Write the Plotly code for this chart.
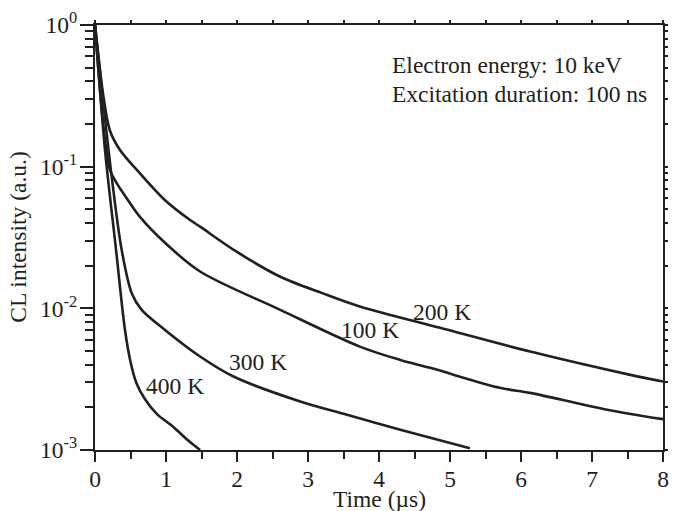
import math
import plotly.graph_objects as go

# ---- data (time in µs, CL intensity a.u.) ----
t_200 = [0, 0.12, 0.21, 0.352, 0.63, 0.986, 1.34, 1.48, 2.0, 2.61, 3.2, 3.73, 4.86, 6.13, 7.54, 8.0]
v_200 = [1.0, 0.31, 0.18, 0.131, 0.090, 0.058, 0.042, 0.0377, 0.025, 0.0167, 0.0128, 0.0103, 0.00728, 0.00495, 0.00339, 0.00304]

t_100 = [0, 0.21, 0.31, 0.465, 0.63, 0.986, 1.48, 2.61, 3.73, 4.30, 4.72, 5.70, 6.13, 7.16, 8.0]
v_100 = [1.0, 0.095, 0.076, 0.058, 0.0444, 0.029, 0.0182, 0.00975, 0.00537, 0.00432, 0.0038, 0.00275, 0.00253, 0.00195, 0.00165]

t_300 = [0, 0.235, 0.376, 0.517, 0.658, 0.986, 1.48, 1.95, 2.89, 3.5, 4.30, 5.28]
v_300 = [1.0, 0.085, 0.0258, 0.0128, 0.00975, 0.00704, 0.00457, 0.0033, 0.0022, 0.0018, 0.00139, 0.00103]

t_400 = [0, 0.141, 0.296, 0.423, 0.50, 0.58, 0.70, 0.87, 1.1, 1.3, 1.48]
v_400 = [1.0, 0.131, 0.026, 0.0070, 0.0042, 0.0030, 0.0023, 0.0018, 0.00146, 0.00118, 0.00100]

series = [("200 K", t_200, v_200), ("100 K", t_100, v_100),
          ("300 K", t_300, v_300), ("400 K", t_400, v_400)]

# curve labels (data coords)
labels = [("200 K", 4.89, 9.4e-3), ("100 K", 3.87, 7.0e-3),
          ("300 K", 2.29, 4.19e-3), ("400 K", 1.13, 2.83e-3)]

y_tickvals = [1e-3, 1e-2, 1e-1, 1]
y_ticktext = ["10<sup>-3</sup>", "10<sup>-2</sup>", "10<sup>-1</sup>", "10<sup>0</sup>"]
y_minor = [m * 10 ** e for e in (-3, -2, -1) for m in range(2, 10)]
x_tickvals = list(range(0, 9))
x_minor = [i + 0.5 for i in range(0, 8)]

FONT = "Liberation Serif"
INK = "#231f20"
FS = 23.5

fig = go.Figure()
for name, t, v in series:
    fig.add_trace(go.Scatter(x=t, y=v, mode="lines", name=name,
                             line=dict(color=INK, width=2.6, shape="spline", smoothing=0.9),
                             showlegend=False, hoverinfo="skip"))

for text, x, y in labels:
    fig.add_annotation(x=x, y=math.log10(y), yref="y", xref="x", text=text, showarrow=False,
                       font=dict(family=FONT, size=FS, color=INK), yanchor="middle", xanchor="center")

fig.add_annotation(x=0.519, y=0.905, xref="paper", yref="paper", xanchor="left", yanchor="middle",
                   text="Electron energy: 10 keV", showarrow=False,
                   font=dict(family=FONT, size=FS, color=INK))
fig.add_annotation(x=0.519, y=0.837, xref="paper", yref="paper", xanchor="left", yanchor="middle",
                   text="Excitation duration: 100 ns", showarrow=False,
                   font=dict(family=FONT, size=FS, color=INK))

# axis titles
fig.add_annotation(x=0.5, y=-0.116, xref="paper", yref="paper", xanchor="center", yanchor="middle",
                   text="Time (µs)", showarrow=False, font=dict(family=FONT, size=FS, color=INK))
fig.add_annotation(x=-0.137, y=0.5, xref="paper", yref="paper", xanchor="center", yanchor="middle",
                   text="CL intensity (a.u.)", textangle=-90, showarrow=False,
                   font=dict(family=FONT, size=FS, color=INK))

fig.update_layout(
    width=682, height=511,
    margin=dict(l=95, r=19, t=25, b=61, autoexpand=False),
    paper_bgcolor="white", plot_bgcolor="white",
    font=dict(family=FONT, size=FS, color=INK),
    xaxis=dict(range=[0, 8], tickvals=x_tickvals, ticks="outside", ticklen=10, tickwidth=2,
               tickcolor=INK, showline=True, linecolor=INK, linewidth=2, showgrid=False,
               zeroline=False, tickfont=dict(size=FS), automargin=False, ticklabelstandoff=-3,
               minor=dict(tickvals=x_minor, ticks="outside", ticklen=7, tickwidth=2, tickcolor=INK)),
    yaxis=dict(type="log", range=[-3, 0], tickvals=y_tickvals, ticktext=y_ticktext,
               ticks="outside", ticklen=13, tickwidth=2, tickcolor=INK, showline=True,
               linecolor=INK, linewidth=2, showgrid=False, zeroline=False, tickfont=dict(size=FS),
               automargin=False, ticklabelstandoff=-2,
               minor=dict(tickvals=y_minor, ticks="outside", ticklen=8, tickwidth=2, tickcolor=INK)),
    xaxis2=dict(overlaying="x", side="top", range=[0, 8], tickvals=x_tickvals + x_minor,
                ticks="outside", ticklen=3, tickwidth=2, tickcolor=INK, showticklabels=False,
                showline=True, linecolor=INK, linewidth=2, showgrid=False, zeroline=False,
                automargin=False),
    yaxis2=dict(overlaying="y", side="right", type="log", range=[-3, 0],
                tickvals=y_tickvals + y_minor, ticks="outside", ticklen=3, tickwidth=1.5,
                tickcolor=INK, showticklabels=False, showline=True, linecolor=INK, linewidth=2,
                showgrid=False, zeroline=False, automargin=False),
)
fig.add_trace(go.Scatter(x=[None], y=[None], xaxis="x2", yaxis="y2", showlegend=False, hoverinfo="skip"))

fig.write_html("out.html", config={"displayModeBar": False},
               post_script="document.body.style.margin='0px';document.body.style.overflow='hidden';")
